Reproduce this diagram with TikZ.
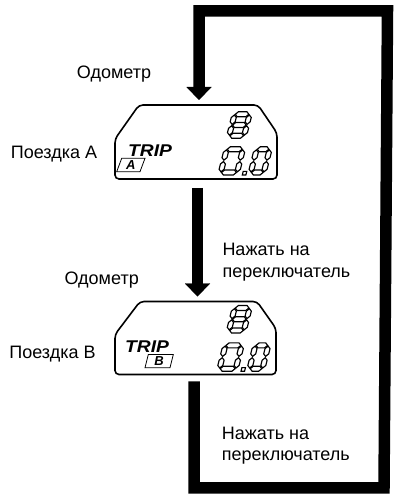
\documentclass[tikz,border=0pt]{standalone}
\usepackage{fontspec}
\usepackage{graphicx}
\setmainfont{Liberation Sans}
\usetikzlibrary{arrows.meta}
\tikzset{
 bigarrow/.style={line width=11.5pt, line join=miter, -{Triangle[width=25pt,length=13pt,line width=0.01pt]}},
 txt/.style={font=\fontsize{18}{21.6}\selectfont, inner sep=0pt},
 dispshape/.style={line width=1.6pt, rounded corners=4pt},
 segline/.style={line width=1.15pt, fill=white, line join=miter},
 tripfont/.style={font=\fontsize{17}{17}\selectfont\bfseries\itshape, inner sep=0pt},
 boxfont/.style={font=\fontsize{13}{13}\selectfont\bfseries\itshape, inner sep=0pt},
 lbox/.style={line width=0.8pt},
 dispnode/.style={inner sep=0pt, outer sep=0pt},
}
\def\sh{2.5}
\def\gp{0.7}
\newcommand\hsg[3]{\filldraw[segline] ({#1},{#3}) -- ({#1+\sh},{#3+\sh}) -- ({#2-\sh},{#3+\sh}) -- ({#2},{#3}) -- ({#2-\sh},{#3-\sh}) -- ({#1+\sh},{#3-\sh}) -- cycle;}
\newcommand\vsg[3]{\filldraw[segline] ({#1},{#2}) -- ({#1+\sh},{#2+\sh}) -- ({#1+\sh},{#3-\sh}) -- ({#1},{#3}) -- ({#1-\sh},{#3-\sh}) -- ({#1-\sh},{#2+\sh}) -- cycle;}
\newcommand\digitzero[4]{%
 \begin{scope}[shift={(#1,#2)}, xslant=0.25]
 \hsg{\gp}{#3-\gp}{#4}
 \hsg{\gp}{#3-\gp}{0}
 \vsg{0}{\gp}{#4/2-\gp}
 \vsg{0}{#4/2+\gp}{#4-\gp}
 \vsg{#3}{\gp}{#4/2-\gp}
 \vsg{#3}{#4/2+\gp}{#4-\gp}
 \end{scope}}
\newcommand\digiteight[4]{%
 \digitzero{#1}{#2}{#3}{#4}
 \begin{scope}[shift={(#1,#2)}, xslant=0.25]
 \hsg{\gp}{#3-\gp}{#4/2}
 \end{scope}}
\newcommand\decdot[2]{%
 \begin{scope}[shift={(#1,#2)}, xslant=0.25]
 \draw[segline] (0,0) rectangle (3.6,3.6);
 \end{scope}}
\begin{document}
\begin{tikzpicture}[x=1pt,y=1pt]
\fill[white] (0,0) rectangle (400,504);
\useasboundingbox (0,0) rectangle (400,504);

% display A
\node[dispnode, minimum width=162pt, minimum height=74pt] (dispA) at (196,362) {};
\begin{scope}[shift={(dispA.south west)}]
 \draw[dispshape] (81,0) -- (0,0) -- (0,40) -- (24,74) -- (143,74) -- (162,46) -- (162,0) -- cycle;
 \digiteight{114.2}{43.2}{15}{21.5}
 \digitzero{105.8}{6.5}{16.3}{23.3}
 \decdot{127.3}{4}
 \digitzero{135.8}{6.5}{13}{23.3}
 \node[tripfont, anchor=base west] (tripA) at (13,22.3) {\scalebox{1.13}[1]{TRIP}};
 \draw[lbox] (1.7,7.3) -- (25,7.3) -- (30,20.7) -- (6.7,20.7) -- cycle;
 \node[boxfont] (boxA) at (15.9,14) {A};
\end{scope}

% display B
\node[dispnode, minimum width=161pt, minimum height=73pt] (dispB) at (195.5,166) {};
\begin{scope}[shift={(dispB.south west)}]
 \draw[dispshape] (80,0) -- (0,0) -- (0,40) -- (25,73) -- (142,73) -- (161,46) -- (161,0) -- cycle;
 \digiteight{114}{44}{15}{22.5}
 \digitzero{104.5}{5.8}{16.3}{23.3}
 \decdot{126}{3.3}
 \digitzero{134.5}{5.8}{13}{23.3}
 \node[tripfont, anchor=base west] (tripB) at (10,21.7) {\scalebox{1.13}[1]{TRIP}};
 \draw[lbox] (30,6.7) -- (55,6.7) -- (58.3,20) -- (33.3,20) -- cycle;
 \node[boxfont] (boxB) at (44,13.4) {B};
\end{scope}

% labels
\node[txt, anchor=base] (odoA) at (114,425.7) {Одометр};
\node[txt, anchor=base] (poezdA) at (54,345.3) {Поездка А};
\node[txt, anchor=base] (odoB) at (101.7,219) {Одометр};
\node[txt, anchor=base] (poezdB) at (52.5,145.7) {Поездка В};
\node[txt, anchor=north west, align=left] (pressA) at (222.3,260.7) {Нажать на\\переключатель};
\node[txt, anchor=north west, align=left] (pressB) at (221.7,77.3) {Нажать на\\переключатель};

% connectors
\coordinate (c1) at (194,16);
\coordinate (c2) at (384,16);
\coordinate (c3) at (387.5,493);
\coordinate (c4) at (199,493);
\draw[bigarrow] ([xshift=1.5pt,yshift=-9pt]dispA.south) -- ([xshift=2pt,yshift=5pt]dispB.north);
\draw[bigarrow] ([xshift=-1.5pt,yshift=-7pt]dispB.south) -- (c1) -- (c2) -- (c3) -- (c4) -- ([xshift=3pt,yshift=5pt]dispA.north);
\end{tikzpicture}
\end{document}
